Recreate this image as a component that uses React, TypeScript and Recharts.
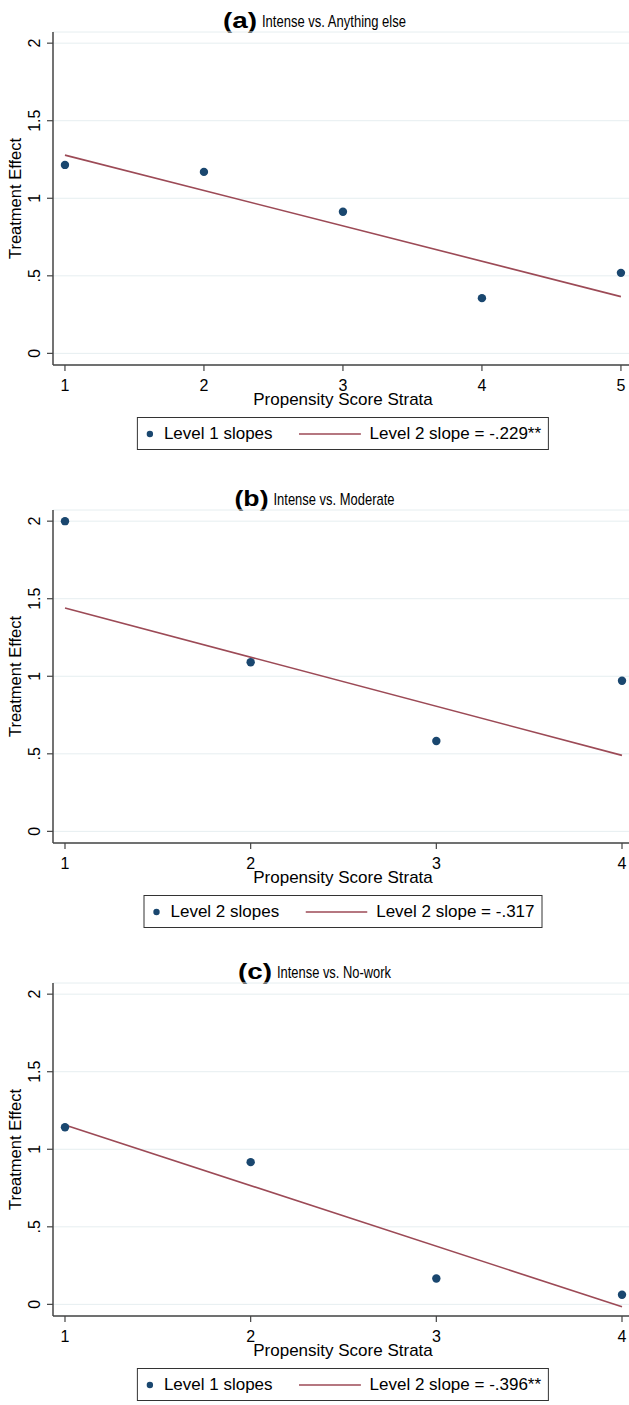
import React from 'react';
import { ComposedChart, Scatter, Line, XAxis, YAxis, CartesianGrid, Label } from 'recharts';

// ---- data ----
const strataA = [1, 2, 3, 4, 5];
const effectsA = [1.215, 1.17, 0.913, 0.356, 0.519];
const fitA = [1.278, 0.366]; // fitted level-2 line at first / last stratum

const strataB = [1, 2, 3, 4];
const effectsB = [2.0, 1.09, 0.583, 0.971];
const fitB = [1.44, 0.49];

const strataC = [1, 2, 3, 4];
const effectsC = [1.142, 0.917, 0.167, 0.062];
const fitC = [1.157, -0.016];

const yTicks = [0, 0.5, 1, 1.5, 2];
const yTickLabels = ['0', '.5', '1', '1.5', '2'];

const panelTitles = ['(a)', '(b)', '(c)'];
const panelSubtitles = ['Intense vs. Anything else', 'Intense vs. Moderate', 'Intense vs. No-work'];
const pointLabels = ['Level 1 slopes', 'Level 2 slopes', 'Level 1 slopes'];
const lineLabels = ['Level 2 slope = -.229**', 'Level 2 slope = -.317', 'Level 2 slope = -.396**'];
const xLabel = 'Propensity Score Strata';
const yLabel = 'Treatment Effect';

// ---- styles ----
const FONT = "'Liberation Sans', Arial, Helvetica, sans-serif";
const NAVY = '#1a476f';
const MAROON = '#9c4a56';
const AXIS = '#444';
const GRID = '#e6eef0';

type PanelProps = {
  top: number;
  title: string;
  subtitle: string;
  subtitleWidth: number;
  strata: number[];
  effects: number[];
  fit: number[];
  xDomain: [number, number];
  pointLabel: string;
  lineLabel: string;
};

const YTick = (props: any) => {
  const { y, payload } = props;
  const idx = yTicks.indexOf(payload.value);
  const label = idx >= 0 ? yTickLabels[idx] : String(payload.value);
  const bx = 40;
  return (
    <text
      x={bx}
      y={y}
      transform={`rotate(-90 ${bx} ${y})`}
      textAnchor="middle"
      fontFamily={FONT}
      fontSize={16}
      fill="#000"
    >
      {label}
    </text>
  );
};

const XTick = (props: any) => {
  const { x, y, payload } = props;
  return (
    <text x={x} y={y + 18} textAnchor="middle" fontFamily={FONT} fontSize={16} fill="#000">
      {String(payload.value)}
    </text>
  );
};

const Dot = (props: any) => {
  const { cx, cy } = props;
  if (cx == null || cy == null) return null;
  return <circle cx={cx} cy={cy} r={4.2} fill={NAVY} />;
};

function Panel(p: PanelProps) {
  const points = p.strata.map((s, i) => ({ x: s, y: p.effects[i] }));
  const fitLine = [
    { x: p.strata[0], y: p.fit[0] },
    { x: p.strata[p.strata.length - 1], y: p.fit[1] },
  ];
  const boldW = 34;
  const gap = 5;
  const startX = 314.5 - (boldW + gap + p.subtitleWidth) / 2;
  return (
    <div style={{ position: 'absolute', left: 0, top: p.top, width: 629, height: 470 }}>
      <svg width={629} height={36} style={{ position: 'absolute', left: 0, top: 0 }}>
        <text
          x={startX}
          y={28}
          fontFamily={FONT}
          fontWeight="bold"
          fontSize={22}
          textLength={boldW}
          lengthAdjust="spacingAndGlyphs"
          fill="#000"
        >
          {p.title}
        </text>
        <text
          x={startX + boldW + gap}
          y={27}
          fontFamily={FONT}
          fontSize={17}
          textLength={p.subtitleWidth}
          lengthAdjust="spacingAndGlyphs"
          fill="#000"
        >
          {p.subtitle}
        </text>
      </svg>
      <div style={{ position: 'absolute', left: 0, top: 0 }}>
        <ComposedChart width={629} height={415} margin={{ top: 32, right: 0, bottom: 0, left: 0 }}>
          <CartesianGrid horizontal={true} vertical={false} stroke={GRID} strokeWidth={1} />
          <XAxis
            type="number"
            dataKey="x"
            domain={p.xDomain}
            ticks={p.strata}
            allowDataOverflow
            height={50}
            axisLine={{ stroke: AXIS, strokeWidth: 1.5 }}
            tickLine={{ stroke: AXIS, strokeWidth: 1.2 }}
            tickSize={6}
            tickMargin={2}
            tick={<XTick />}
            interval={0}
          >
            <Label
              content={(lp: any) => {
                const vb = lp.viewBox || { x: 53, y: 365, width: 576 };
                return (
                  <text
                    x={vb.x + vb.width / 2 + 2}
                    y={vb.y + 39.5}
                    textAnchor="middle"
                    fontFamily={FONT}
                    fontSize={17}
                    fill="#000"
                  >
                    {xLabel}
                  </text>
                );
              }}
            />
          </XAxis>
          <YAxis
            type="number"
            dataKey="y"
            domain={[-0.075, 2.072]}
            ticks={yTicks}
            allowDataOverflow
            width={53}
            axisLine={{ stroke: AXIS, strokeWidth: 1.5 }}
            tickLine={{ stroke: AXIS, strokeWidth: 1.2 }}
            tickSize={6}
            tickMargin={2}
            tick={<YTick />}
            interval={0}
          >
            <Label
              content={(lp: any) => {
                const vb = lp.viewBox || { x: 0, y: 32, width: 53, height: 333 };
                const cy = vb.y + vb.height / 2;
                const bx = 21;
                return (
                  <text
                    x={bx}
                    y={cy}
                    transform={`rotate(-90 ${bx} ${cy})`}
                    textAnchor="middle"
                    fontFamily={FONT}
                    fontSize={16.5}
                    fill="#000"
                  >
                    {yLabel}
                  </text>
                );
              }}
            />
          </YAxis>
          <Line
            data={fitLine}
            dataKey="y"
            type="linear"
            stroke={MAROON}
            strokeWidth={1.6}
            dot={false}
            activeDot={false}
            isAnimationActive={false}
          />
          <Scatter data={points} fill={NAVY} shape={<Dot />} isAnimationActive={false} />
        </ComposedChart>
      </div>
      <div
        style={{
          position: 'absolute',
          top: 417,
          left: 343,
          transform: 'translateX(-50%)',
          display: 'flex',
          alignItems: 'center',
          height: 33,
          boxSizing: 'border-box',
          border: '1px solid #333',
          padding: '0 7px 0 8px',
          whiteSpace: 'nowrap',
          fontFamily: FONT,
          fontSize: 17,
          color: '#000',
          background: '#fff',
        }}
      >
        <svg width={8} height={8} style={{ display: 'block' }}>
          <circle cx={4} cy={4} r={3.2} fill={NAVY} />
        </svg>
        <span style={{ marginLeft: 10 }}>{p.pointLabel}</span>
        <svg width={62} height={4} style={{ display: 'block', marginLeft: 26 }}>
          <line x1={0} y1={2} x2={62} y2={2} stroke={MAROON} strokeWidth={1.6} />
        </svg>
        <span style={{ marginLeft: 9 }}>{p.lineLabel}</span>
      </div>
    </div>
  );
}

export default function App() {
  return (
    <div
      style={{
        position: 'absolute',
        left: 0,
        top: 0,
        width: 629,
        height: 1405,
        background: '#fff',
        fontFamily: FONT,
        overflow: 'hidden',
      }}
    >
      <Panel
        top={0}
        title={panelTitles[0]}
        subtitle={panelSubtitles[0]}
        subtitleWidth={144}
        strata={strataA}
        effects={effectsA}
        fit={fitA}
        xDomain={[0.914, 5.058]}
        pointLabel={pointLabels[0]}
        lineLabel={lineLabels[0]}
      />
      <Panel
        top={478}
        title={panelTitles[1]}
        subtitle={panelSubtitles[1]}
        subtitleWidth={121}
        strata={strataB}
        effects={effectsB}
        fit={fitB}
        xDomain={[0.9354, 4.0377]}
        pointLabel={pointLabels[1]}
        lineLabel={lineLabels[1]}
      />
      <Panel
        top={951}
        title={panelTitles[2]}
        subtitle={panelSubtitles[2]}
        subtitleWidth={114}
        strata={strataC}
        effects={effectsC}
        fit={fitC}
        xDomain={[0.9354, 4.0377]}
        pointLabel={pointLabels[2]}
        lineLabel={lineLabels[2]}
      />
    </div>
  );
}
